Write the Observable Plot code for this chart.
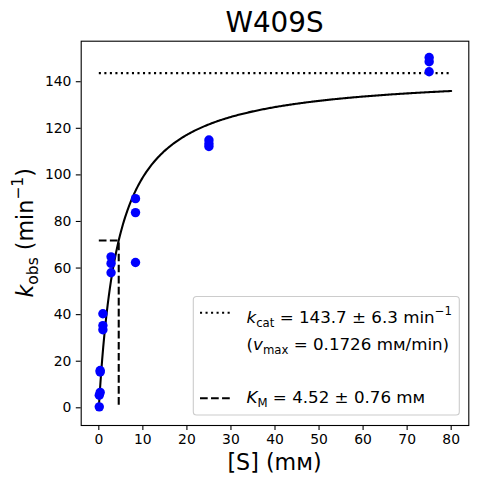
<!DOCTYPE html>
<html>
<head>
<meta charset="utf-8">
<script src="https://cdn.jsdelivr.net/npm/d3@7"></script>
<script src="https://cdn.jsdelivr.net/npm/@observablehq/plot@0.6"></script>
<style>
  html, body { margin: 0; padding: 0; background: white; }
  svg { display: block; }
</style>
</head>
<body>
<div id="chart"></div>
<script>
// ---- data ----
const title = "W409S";
const substrate = [75, 75, 75, 25, 25, 25, 8.33, 8.33, 8.33, 2.78, 2.78, 2.78, 0.926, 0.926, 0.926, 0.309, 0.309, 0.309, 0.103, 0.103];
const kobs      = [150.4, 148.6, 144.3, 115.0, 113.4, 112.2, 89.8, 83.8, 62.4, 64.8, 62.0, 58.0, 40.4, 35.3, 33.5, 16.0, 15.4, 6.6, 5.4, 0.4];
const kcat = 143.7;       // min^-1 (fit)
const kcatErr = 6.3;
const vmax = 0.1726;      // mM/min
const KM = 4.52;          // mM (fit)
const KMErr = 0.76;
const curveRange = [0, 80];
const xTicks = [0, 10, 20, 30, 40, 50, 60, 70, 80];
const yTicks = [0, 20, 40, 60, 80, 100, 120, 140];

// ---- derived tables ----
const points = substrate.map((s, i) => ({s, k: kobs[i]}));
const curve = d3.range(curveRange[0], curveRange[1] + 1e-9, 0.25).map(s => ({s, k: kcat * s / (KM + s)}));
const kcatLine = curveRange.map(s => ({s, k: kcat}));
const kmLine = [{s: 0, k: kcat / 2}, {s: KM, k: kcat / 2}, {s: KM, k: 0}];

const W = 477, H = 484;
const mL = 80.7, mR = 8.7, mT = 40.7, mB = 59;
const FONT = "DejaVu Sans";

const chart = Plot.plot({
  width: W, height: H,
  marginLeft: mL, marginRight: mR, marginTop: mT, marginBottom: mB,
  x: {domain: [-4, 84]},
  y: {domain: [-7.6, 157.4]},
  style: {fontFamily: FONT, fontSize: "13.9px", background: "white", color: "black", overflow: "visible"},
  marks: [
    Plot.axisX({ticks: xTicks, tickSize: 4.9, tickPadding: 4.0, label: null, fontSize: 13.9, strokeWidth: 1.1}),
    Plot.axisY({ticks: yTicks, tickSize: 4.9, tickPadding: 4.9, label: null, fontSize: 13.9, strokeWidth: 1.1}),
    Plot.line(curve, {x: "s", y: "k", stroke: "black", strokeWidth: 2.08}),
    Plot.line(kcatLine, {x: "s", y: "k", stroke: "black", strokeWidth: 2.08, strokeDasharray: "2.08 3.44", strokeLinecap: "butt"}),
    Plot.line(kmLine, {x: "s", y: "k", stroke: "black", strokeWidth: 2.08, strokeDasharray: "7.7 3.33", strokeLinecap: "butt", strokeLinejoin: "miter"}),
    Plot.dot(points, {x: "s", y: "k", r: 4.7, fill: "blue", stroke: "none"}),
    Plot.frame({stroke: "black", strokeWidth: 1.1})
  ]
});

document.getElementById("chart").appendChild(chart);

// ---- rich text helper (math-like sub/superscripts) ----
function rich(parent, parts, fontSize, anchor) {
  const t = parent.append("text")
    .attr("font-family", FONT)
    .attr("font-size", fontSize)
    .attr("text-anchor", anchor)
    .attr("fill", "black");
  let off = 0;
  for (const p of parts) {
    let target = 0, size = fontSize;
    if (p.sub) { target = 0.24 * fontSize; size = 0.7 * fontSize; }
    if (p.sup) { target = -0.42 * fontSize; size = 0.7 * fontSize; }
    const ts = t.append("tspan").text(p.t).attr("font-size", size);
    if (target !== off) ts.attr("dy", target - off);
    if (p.i) ts.attr("font-style", "italic");
    off = target;
  }
  return t;
}

const svg = d3.select(chart);
const cx = mL + (W - mL - mR) / 2;

// title
svg.append("text").text(title)
  .attr("x", cx).attr("y", 31.7)
  .attr("text-anchor", "middle")
  .attr("font-family", FONT).attr("font-size", 27.8).attr("fill", "black");

// x label
svg.append("text").text("[S] (mᴍ)")
  .attr("x", cx).attr("y", 470)
  .attr("text-anchor", "middle")
  .attr("font-family", FONT).attr("font-size", 22.2).attr("fill", "black");

// y label
const yg = svg.append("g").attr("transform", `translate(32.5, ${mT + (H - mB - mT) / 2}) rotate(-90)`);
rich(yg, [{t: "k", i: true}, {t: "obs", sub: true}, {t: " (min"}, {t: "−1", sup: true}, {t: ")"}], 22.2, "middle");

// legend
const lg = svg.append("g").attr("text-anchor", "start");
lg.append("rect")
  .attr("x", 193.3).attr("y", 296.5).attr("width", 266).attr("height", 118.5)
  .attr("rx", 3.3).attr("fill", "white").attr("fill-opacity", 0.8)
  .attr("stroke", "#cccccc").attr("stroke-width", 1.1);
lg.append("line").attr("x1", 200).attr("x2", 233).attr("y1", 312.7).attr("y2", 312.7)
  .attr("stroke", "black").attr("stroke-width", 2.08).attr("stroke-dasharray", "2.08 3.44");
lg.append("line").attr("x1", 200).attr("x2", 233).attr("y1", 398.3).attr("y2", 398.3)
  .attr("stroke", "black").attr("stroke-width", 2.08).attr("stroke-dasharray", "7.7 3.33");
const LF = 16.7;
rich(lg, [{t: "k", i: true}, {t: "cat", sub: true}, {t: ` = ${kcat} ± ${kcatErr} min`}, {t: "−1", sup: true}], LF, "start")
  .attr("x", 246.5).attr("y", 322.5);
rich(lg, [{t: "("}, {t: "v", i: true}, {t: "max", sub: true}, {t: ` = ${vmax} mᴍ/min)`}], LF, "start")
  .attr("x", 246.5).attr("y", 349.5);
rich(lg, [{t: "K", i: true}, {t: "M", sub: true}, {t: ` = ${KM} ± ${KMErr} mᴍ`}], LF, "start")
  .attr("x", 246.5).attr("y", 403);
</script>
</body>
</html>
